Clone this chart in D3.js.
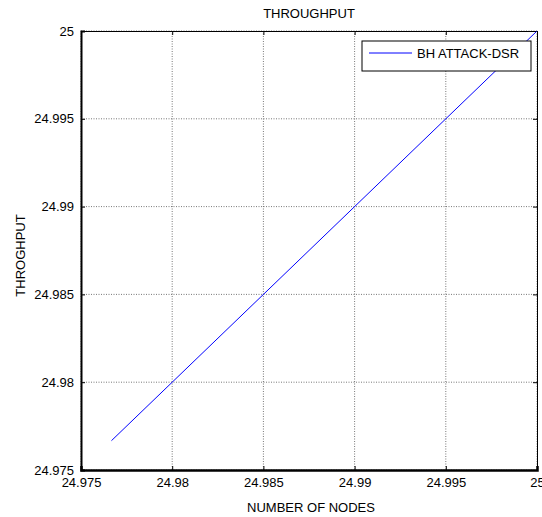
<!DOCTYPE html>
<html><head><meta charset="utf-8">
<script src="https://cdn.jsdelivr.net/npm/d3@7"></script>
<style>body{margin:0;background:#fff}text{font-family:"Liberation Sans",Arial,sans-serif;}</style>
</head><body>
<svg id="c" width="542" height="517"></svg>
<script>
const xTicks = [24.975, 24.98, 24.985, 24.99, 24.995, 25];
const yTicks = [24.975, 24.98, 24.985, 24.99, 24.995, 25];
const xTickLabels = ["24.975", "24.98", "24.985", "24.99", "24.995", "25"];
const yTickLabels = ["24.975", "24.98", "24.985", "24.99", "24.995", "25"];
const nodes = [24.97667, 24.99998];
const throughput = [24.97667, 24.99998];
const seriesName = "BH ATTACK-DSR";
const title = "THROUGHPUT", xTitle = "NUMBER OF NODES", yTitle = "THROGHPUT";

const L = 81, R = 537, T = 31, B = 470;
const svg = d3.select("#c");
const x = d3.scaleLinear().domain([24.975, 25]).range([L, R]);
const y = d3.scaleLinear().domain([24.975, 25]).range([B, T]);

svg.append("rect").attr("x",0).attr("y",0).attr("width",542).attr("height",517).attr("fill","#fff");

// grid
const g = svg.append("g");
xTicks.forEach(v => g.append("line").attr("x1",x(v)).attr("x2",x(v)).attr("y1",T).attr("y2",B)
  .attr("stroke","#555").attr("stroke-width",0.8).attr("stroke-dasharray","1,1.5"));
yTicks.forEach(v => g.append("line").attr("y1",y(v)).attr("y2",y(v)).attr("x1",L).attr("x2",R)
  .attr("stroke","#555").attr("stroke-width",0.8).attr("stroke-dasharray","1,1.5"));

// axes
const fmtX = (d,i) => xTickLabels[i];
const fmtY = (d,i) => yTickLabels[i];
const ax = svg.append("g").attr("transform",`translate(0,${B})`)
  .call(d3.axisBottom(x).tickValues(xTicks).tickFormat(fmtX).tickSize(-4).tickPadding(8));
const ay = svg.append("g").attr("transform",`translate(${L},0)`)
  .call(d3.axisLeft(y).tickValues(yTicks).tickFormat(fmtY).tickSize(-4).tickPadding(7));
const at = svg.append("g").attr("transform",`translate(0,${T})`)
  .call(d3.axisTop(x).tickValues(xTicks).tickFormat("").tickSize(-4));
const ar = svg.append("g").attr("transform",`translate(${R},0)`)
  .call(d3.axisRight(y).tickValues(yTicks).tickFormat("").tickSize(-4));
[ax,ay,at,ar].forEach(a=>{
  a.select(".domain").attr("stroke","#000").attr("stroke-width",1);
  a.selectAll(".tick line").attr("stroke","#000");
  a.selectAll("text").attr("font-size",13).attr("fill","#000").style("font-family",'"Liberation Sans",Arial,sans-serif');
});
ax.select(".domain").attr("stroke-width",2.5);
ay.select(".domain").attr("stroke-width",2);

// line
svg.append("path").datum(nodes.map((v,i)=>[v,throughput[i]]))
  .attr("d", d3.line().x(d=>x(d[0])).y(d=>y(d[1])))
  .attr("fill","none").attr("stroke","#0000ff").attr("stroke-width",1);

// legend
const lg = svg.append("g");
lg.append("rect").attr("x",362).attr("y",41).attr("width",169).attr("height",30)
  .attr("fill","#fff").attr("stroke","#000").attr("stroke-width",1);
lg.append("line").attr("x1",369).attr("x2",412).attr("y1",53).attr("y2",53).attr("stroke","#0000ff");
lg.append("text").attr("x",417).attr("y",58).attr("font-size",13).text(seriesName);

// titles
svg.append("text").attr("x",(L+R)/2).attr("y",18).attr("text-anchor","middle").attr("font-size",13).text(title);
svg.append("text").attr("x",(L+R)/2+2).attr("y",512).attr("text-anchor","middle").attr("font-size",13).text(xTitle);
svg.append("text").attr("transform",`translate(25,${(T+B)/2+5}) rotate(-90)`).attr("text-anchor","middle").attr("font-size",13).text(yTitle);
</script>
</body></html>
